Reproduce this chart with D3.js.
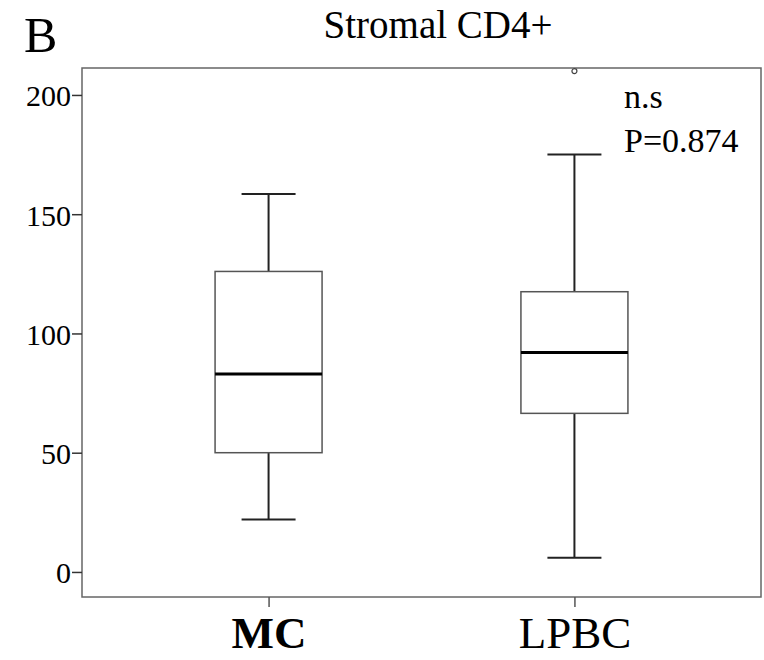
<!DOCTYPE html>
<html>
<head>
<meta charset="utf-8">
<script src="https://cdn.jsdelivr.net/npm/d3@7"></script>
<style>
  body { margin: 0; background: #fff; }
  text { font-family: "Liberation Serif", "Times New Roman", serif; fill: #000; }
</style>
</head>
<body>
<svg id="chart" width="764" height="660"></svg>
<script>
// groups and their box summaries
var groups = ["MC", "LPBC"];
var whiskerLow = [22, 6];
var q1 = [50, 66.5];
var median = [83, 92];
var q3 = [126, 117.5];
var whiskerHigh = [158.5, 175];
var outliers = [[], [210]];
var yTicks = [0, 50, 100, 150, 200];

var serif = "'Liberation Serif', 'Times New Roman', serif";

var margin = {top: 68, right: 3, bottom: 63, left: 82},
	width = 764 - margin.left - margin.right,
	height = 660 - margin.top - margin.bottom;

var svg = d3.select("#chart")
  .append("g")
	.attr("transform", "translate(" + margin.left + "," + margin.top + ")");

var y = d3.scaleLinear().domain([-10.5, 211.3]).range([height, 0]);
var x = d3.scalePoint().domain(groups).range([0, width]).padding(0.61);

var boxW = 107, capW = 54;

// frame
svg.append("rect")
	.attr("width", width)
	.attr("height", height)
	.attr("fill", "none")
	.attr("stroke", "#666")
	.attr("stroke-width", 1.5);

// y axis
var yAxis = svg.append("g")
	.call(d3.axisLeft(y).tickValues(yTicks).tickSize(10).tickPadding(1));
yAxis.select(".domain").remove();
yAxis.selectAll("line").attr("stroke", "#333").attr("stroke-width", 1.5);
yAxis.selectAll("text")
	.style("font-family", serif)
	.style("font-size", "30px")
	.attr("dy", "0.36em")
	.attr("fill", "#000");

// x axis
var xAxis = svg.append("g")
	.attr("transform", "translate(0," + height + ")")
	.call(d3.axisBottom(x).tickSize(10).tickPadding(9));
xAxis.select(".domain").remove();
xAxis.selectAll("line").attr("stroke", "#555").attr("stroke-width", 1.5);
xAxis.selectAll("text")
	.style("font-family", serif)
	.style("font-size", "45px")
	.style("font-weight", function(d) { return d === "MC" ? "bold" : "normal"; })
	.attr("fill", "#000");

// boxes
groups.forEach(function(g, i) {
	var cx = x(g);
	var gg = svg.append("g");

	// whiskers
	gg.append("line")
		.attr("x1", cx).attr("x2", cx)
		.attr("y1", y(q3[i])).attr("y2", y(whiskerHigh[i]))
		.attr("stroke", "#222").attr("stroke-width", 2);
	gg.append("line")
		.attr("x1", cx).attr("x2", cx)
		.attr("y1", y(q1[i])).attr("y2", y(whiskerLow[i]))
		.attr("stroke", "#222").attr("stroke-width", 2);
	gg.append("line")
		.attr("x1", cx - capW / 2).attr("x2", cx + capW / 2)
		.attr("y1", y(whiskerHigh[i])).attr("y2", y(whiskerHigh[i]))
		.attr("stroke", "#222").attr("stroke-width", 2);
	gg.append("line")
		.attr("x1", cx - capW / 2).attr("x2", cx + capW / 2)
		.attr("y1", y(whiskerLow[i])).attr("y2", y(whiskerLow[i]))
		.attr("stroke", "#222").attr("stroke-width", 2);

	// box
	gg.append("rect")
		.attr("x", cx - boxW / 2)
		.attr("y", y(q3[i]))
		.attr("width", boxW)
		.attr("height", y(q1[i]) - y(q3[i]))
		.attr("fill", "#fff")
		.attr("stroke", "#555")
		.attr("stroke-width", 1.5);

	// median
	gg.append("line")
		.attr("x1", cx - boxW / 2).attr("x2", cx + boxW / 2)
		.attr("y1", y(median[i])).attr("y2", y(median[i]))
		.attr("stroke", "#000").attr("stroke-width", 3);

	// outliers
	outliers[i].forEach(function(v) {
		gg.append("circle")
			.attr("cx", cx).attr("cy", y(v))
			.attr("r", 2.5)
			.attr("fill", "#fff")
			.attr("stroke", "#444")
			.attr("stroke-width", 1.2);
	});
});

// texts
var root = d3.select("#chart");
root.append("text")
	.attr("x", 24).attr("y", 52)
	.style("font-family", serif)
	.style("font-size", "50px")
	.text("B");
root.append("text")
	.attr("x", 438).attr("y", 38)
	.attr("text-anchor", "middle")
	.style("font-family", serif)
	.style("font-size", "39px")
	.text("Stromal CD4+");
root.append("text")
	.attr("x", 624).attr("y", 108)
	.style("font-family", serif)
	.style("font-size", "34px")
	.text("n.s");
root.append("text")
	.attr("x", 624).attr("y", 152)
	.style("font-family", serif)
	.style("font-size", "34px")
	.text("P=0.874");
</script>
</body>
</html>
